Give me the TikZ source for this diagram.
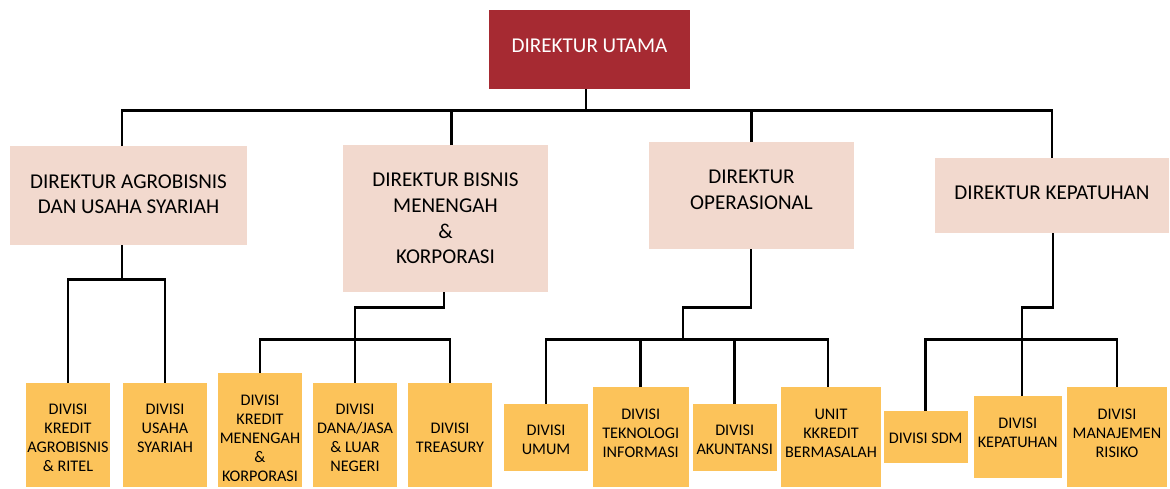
\documentclass[tikz,border=0pt]{standalone}
\usepackage{fontspec}
\setmainfont{Carlito}
\definecolor{utama}{RGB}{166,42,50}
\definecolor{direk}{RGB}{242,217,206}
\definecolor{divisi}{RGB}{252,195,90}
\begin{document}
\begin{tikzpicture}[x=1pt,y=-1pt,
  conn/.style={line width=2.6pt, black, line join=miter},
  box/.style={anchor=north west, inner sep=0pt, outer sep=0pt, draw=none},
  topbox/.style={box, fill=utama},
  dirbox/.style={box, fill=direk},
  divbox/.style={box, fill=divisi},
  dirtext/.style={inner sep=0pt, align=center, font=\fontsize{21.1}{25.7}\selectfont},
  divtext/.style={inner sep=0pt, align=center, font=\fontsize{16.2}{19}\selectfont}]
\useasboundingbox (0,0) rectangle (1170,488);

% top level
\node[topbox, minimum width=201pt, minimum height=79pt] (top) at (489,10) {};
\node[dirtext, text=white] (ttop) at (589.5,45.8) {DIREKTUR UTAMA};

% directors
\node[dirbox, minimum width=237pt, minimum height=99pt] (d1) at (10,146) {};
\node[dirbox, minimum width=205pt, minimum height=147pt] (d2) at (343,145) {};
\node[dirbox, minimum width=205pt, minimum height=107pt] (d3) at (649,142) {};
\node[dirbox, minimum width=234pt, minimum height=75pt] (d4) at (935,158) {};
\node[dirtext] (td1) at (128.5,194.3) {DIREKTUR AGROBISNIS\\DAN USAHA SYARIAH};
\node[dirtext] (td2) at (445.5,218.5) {DIREKTUR BISNIS\\MENENGAH\\\&\\KORPORASI};
\node[dirtext] (td3) at (751.5,189.5) {DIREKTUR\\OPERASIONAL};
\node[dirtext] (td4) at (1052,193.3) {DIREKTUR KEPATUHAN};

% divisions
\node[divbox, minimum width=84pt, minimum height=104pt] (a1) at (26,383) {};
\node[divbox, minimum width=84pt, minimum height=104pt] (a2) at (123,383) {};
\node[divbox, minimum width=84pt, minimum height=114pt] (b1) at (218,373) {};
\node[divbox, minimum width=84pt, minimum height=104pt] (b2) at (313,383) {};
\node[divbox, minimum width=84pt, minimum height=104pt] (b3) at (408,383) {};
\node[divbox, minimum width=84pt, minimum height=67pt] (c1) at (504,404) {};
\node[divbox, minimum width=95.5pt, minimum height=100pt] (c2) at (593,387) {};
\node[divbox, minimum width=83.5pt, minimum height=67pt] (c3) at (693,404) {};
\node[divbox, minimum width=100pt, minimum height=100pt] (c4) at (781,387) {};
\node[divbox, minimum width=83.5pt, minimum height=52pt] (e1) at (884,411) {};
\node[divbox, minimum width=87.5pt, minimum height=82pt] (e2) at (974,396) {};
\node[divbox, minimum width=100pt, minimum height=100pt] (e3) at (1067,387) {};

\node[divtext] (ta1) at (68,437.5) {DIVISI\\KREDIT\\AGROBISNIS\\\& RITEL};
\node[divtext] (ta2) at (165,428) {DIVISI\\USAHA\\SYARIAH};
\node[divtext] (tb1) at (260,438) {DIVISI\\KREDIT\\MENENGAH\\\&\\KORPORASI};
\node[divtext] (tb2) at (355,437.5) {DIVISI\\DANA/JASA\\\& LUAR\\NEGERI};
\node[divtext] (tb3) at (450,437.7) {DIVISI\\TREASURY};
\node[divtext] (tc1) at (546,440) {DIVISI\\UMUM};
\node[divtext] (tc2) at (640.7,433) {DIVISI\\TEKNOLOGI\\INFORMASI};
\node[divtext] (tc3) at (734.7,440) {DIVISI\\AKUNTANSI};
\node[divtext] (tc4) at (831,433) {UNIT\\KKREDIT\\BERMASALAH};
\node[divtext] (te1) at (925.7,438) {DIVISI SDM};
\node[divtext] (te2) at (1017.7,432.5) {DIVISI\\KEPATUHAN};
\node[divtext] (te3) at (1117,433) {DIVISI\\MANAJEMEN\\RISIKO};

% connectors: top level to directors
\coordinate (bL) at (122,110.7);
\coordinate (topt) at ([xshift=-3.5pt]top.south);
\coordinate (d2t) at ([xshift=6pt]d2.north);
\draw[conn] (bL |- d1.north) -- (bL) -- (d4.north |- bL) -- (d4.north);
\draw[conn] (topt) -- (topt |- bL);
\draw[conn] (d2t) -- (d2t |- bL);
\draw[conn] (d3.north) -- (d3.north |- bL);

% agrobisnis branch
\coordinate (ja) at (122,279.3);
\draw[conn] (ja |- d1.south) -- (ja);
\draw[conn] (a1.north) -- (a1.north |- ja) -- (a2.north |- ja) -- (a2.north);

% bisnis branch
\coordinate (jb) at (444,307.7);
\coordinate (kb) at (355,339.3);
\draw[conn] (jb |- d2.south) -- (jb) -| (b2.north);
\draw[conn] (b1.north) -- (b1.north |- kb) -- (b3.north |- kb) -- (b3.north);

% operasional branch
\coordinate (jc) at (751,307.7);
\coordinate (kc) at (683,339.3);
\coordinate (c4t) at ([xshift=-3pt]c4.north);
\draw[conn] (jc |- d3.south) -- (jc) -| (kc);
\draw[conn] (c1.north) -- (c1.north |- kc) -- (c4t |- kc) -- (c4t);
\draw[conn] (c2.north) -- (c2.north |- kc);
\draw[conn] (c3.north) -- (c3.north |- kc);

% kepatuhan branch
\coordinate (jd) at (1053,307.7);
\coordinate (kd) at (1022,339.3);
\draw[conn] (jd |- d4.south) -- (jd) -| (kd |- e2.north);
\draw[conn] (e1.north) -- (e1.north |- kd) -- (e3.north |- kd) -- (e3.north);
\end{tikzpicture}
\end{document}
